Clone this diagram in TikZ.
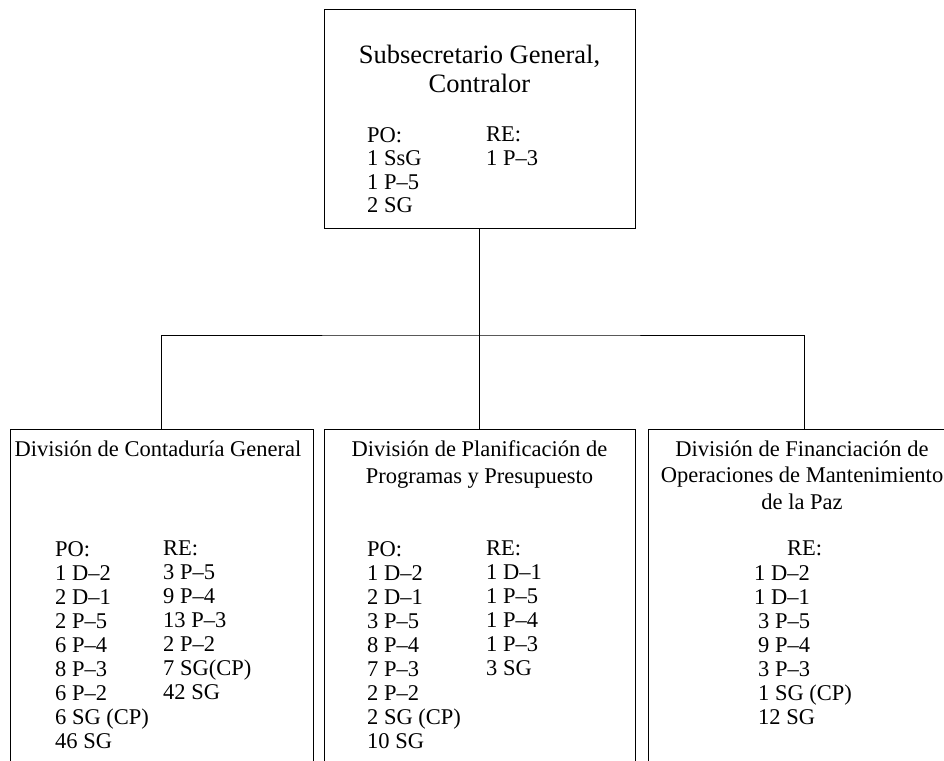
\documentclass[tikz,border=0pt]{standalone}
\usepackage{fontspec}
\setmainfont{Liberation Serif}
\usepackage{xcolor}
\definecolor{Ink}{HTML}{000000}

\begin{document}
\begin{tikzpicture}[x=1pt,y=-1pt,
    unitbox/.style={draw=Ink,line width=1pt,inner sep=0pt},
    unittitle/.style={anchor=north,align=center,inner sep=0pt,text=Ink,
          font=\fontsize{22.5}{26.5}\selectfont},
    postlist/.style={anchor=north west,align=left,inner sep=0pt,text=Ink,
          font=\fontsize{22.5}{24}\selectfont}]
    \useasboundingbox (0,0) rectangle (944,760);
    \clip (0,0) rectangle (944,760);
    % boxes
    \node[unitbox,minimum width=311pt,minimum height=218pt] (controller) at (479.5,119) {};
    \node[unitbox,minimum width=303pt,minimum height=361pt] (accounts) at (161.5,609.5) {};
    \node[unitbox,minimum width=311pt,minimum height=361pt] (budget) at (479.5,609.5) {};
    \node[unitbox,minimum width=312pt,minimum height=361pt] (peacekeeping) at (804,609.5) {};
    % connectors
    \coordinate (bus) at (479.5,335);
    \draw[line width=1pt,color=Ink] (controller.south) -- (bus);
    \draw[line width=1pt,color=Ink] (accounts.north) |- (bus) -| (peacekeeping.north);
    \draw[line width=1pt,color=Ink] (budget.north) -- (bus);
    % controller
    \node[unittitle,font=\fontsize{26.5}{29}\selectfont] (controller-title) at (479.5,45)
          {Subsecretario General,\\Contralor};
    \node[postlist,font=\fontsize{22.5}{23.5}\selectfont] (controller-po) at (367,127)
          {PO:\\1 SsG\\1 P--5\\2 SG};
    \node[postlist,font=\fontsize{22.5}{23.5}\selectfont] (controller-re) at (486,127)
          {RE:\\1 P--3};
    % accounts
    \node[unittitle] (accounts-title) at (158,440.6) {División de Contaduría General};
    \node[postlist] (accounts-po) at (55,541)
          {PO:\\1 D--2\\2 D--1\\2 P--5\\6 P--4\\8 P--3\\6 P--2\\6 SG (CP)\\46 SG};
    \node[postlist] (accounts-re) at (163,541)
          {RE:\\3 P--5\\9 P--4\\13 P--3\\2 P--2\\7 SG(CP)\\42 SG};
    % budget
    \node[unittitle] (budget-title) at (479.5,440.6)
          {División de Planificación de\\Programas y Presupuesto};
    \node[postlist] (budget-po) at (367,541)
          {PO:\\1 D--2\\2 D--1\\3 P--5\\8 P--4\\7 P--3\\2 P--2\\2 SG (CP)\\10 SG};
    \node[postlist] (budget-re) at (486,541)
          {RE:\\1 D--1\\1 P--5\\1 P--4\\1 P--3\\3 SG};
    % peacekeeping
    \node[unittitle] (peacekeeping-title) at (802,440.6)
          {División de Financiación de\\Operaciones de Mantenimiento\\de la Paz};
    \node[postlist] (peacekeeping-head) at (787,541) {RE:};
    \node[postlist] (peacekeeping-re) at (754,565)
          {1 D--2\\1 D--1\\\hspace*{4pt}3 P--5\\\hspace*{4pt}9 P--4\\\hspace*{4pt}3 P--3\\\hspace*{4pt}1 SG (CP)\\\hspace*{4pt}12 SG};
  \end{tikzpicture}
\end{document}
